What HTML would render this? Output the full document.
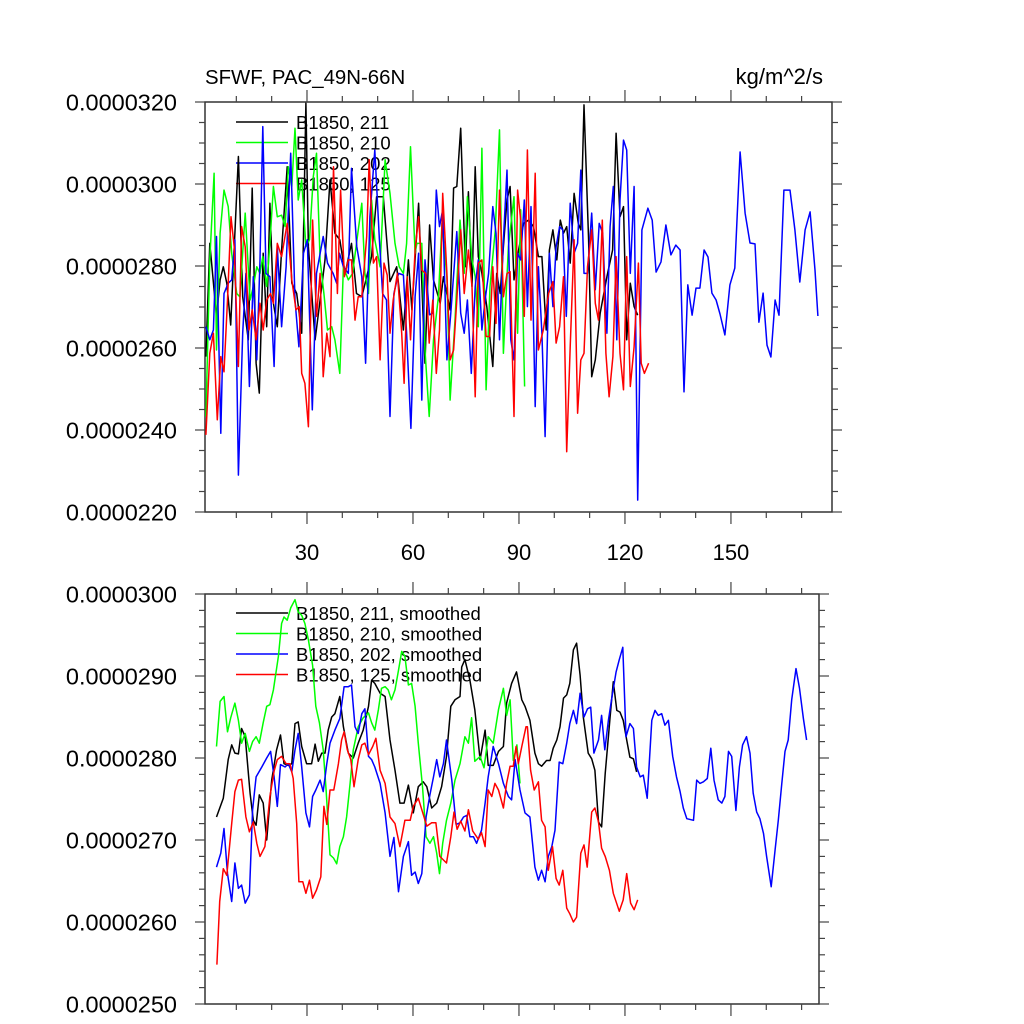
<!DOCTYPE html>
<html><head><meta charset="utf-8"><style>
html,body{margin:0;padding:0;background:#fff;}
svg{display:block;font-family:"Liberation Sans",sans-serif;}
</style></head><body>
<svg id="chart" width="1024" height="1024" viewBox="0 0 1024 1024" xmlns="http://www.w3.org/2000/svg">
<rect width="1024" height="1024" fill="#fff"/>
<text x="205" y="84" font-size="20.4">SFWF, PAC_49N-66N</text>
<text x="823" y="84" font-size="22" text-anchor="end">kg/m^2/s</text>
<g id="top"></g>
<g id="bot"></g>
</svg>
<script>
// ---- data (values in units of 1e-7 kg/m^2/s) ----
const xTicks = [30, 60, 90, 120, 150];
const topYTicks = [220, 240, 260, 280, 300, 320];
const botYTicks = [250, 260, 270, 280, 290, 300];

const yr211 = [1.4,2.5,4.4,5.4,6.3,7.3,8.4,10.6,11.8,13.4,14.5,15.6,16.5,17.6,18.6,19.5,20.5,21.6,22.8,24.4,25.7,27.1,28.5,29.7,30.4,32.3,33.7,35.1,36.5,37.9,39.3,40.8,42.6,44,45.5,46.9,48.3,49.7,51.6,53.5,55.4,57.3,58.7,59.7,61.6,63.4,64.7,65.8,67.7,68.6,70.5,71.5,72.4,73.5,74.8,75.7,76.7,77.6,78.5,79.5,80.9,82.6,83.7,84.7,85.6,86.6,87.5,88.6,89.9,91.3,92.7,94.1,95.5,96.5,97.7,98.6,99.6,100.7,101.7,102.6,103.5,104.5,105.6,106.8,107.5,108.4,109.7,110.6,111.6,113,114.9,116.5,117.5,118.6,119.6,120.5,121.5,122.6,123.6];
const val211 = [257.9,285.5,267.7,276.6,279.8,275.8,265.6,306.7,272.5,262,299,256.3,249,283.1,265.2,295.3,270.9,265.2,283.9,304.2,275.8,273.3,263.6,319.7,284.7,262,271.7,281.5,301,288,286.4,278.2,285.5,273.3,272.5,277.4,282.3,296.9,296.9,276.2,279.8,264.4,281.5,269.3,295.3,256.3,290,276.6,270.9,277.4,269.3,299,299.4,313.6,279.8,298.1,275,304.2,282.3,278.2,270.1,255.5,278.2,273.3,284.7,296.1,299.4,276.6,283.9,290.4,291.2,289.6,282.3,282.3,264.4,283.9,288.8,281.5,291.2,288,289.6,280.7,297.7,290.4,288.8,319.3,286.4,253,257.1,268.5,277.4,283.9,312.4,292,294.5,262,275.8,270.1,268];

const yr210 = [1.4,2.5,3.7,4.4,5.4,6.5,7.7,8.7,10.1,11,12.5,13.9,14.8,15.8,16.7,17.5,18.6,19.5,20.5,21.6,22.8,23.8,24.7,25.7,26.6,27.5,28.5,29.7,30.7,31.8,32.7,33.7,34.8,35.8,37,37.9,39.3,40.3,41.7,42.9,44,45.5,46.4,47.4,48.3,49.2,50.7,52.1,53.5,54.9,56.1,57.3,58.2,59.3,60.6,61.1,62.5,63.4,64.6,65.8,67.2,68.2,69.6,70.5,71.9,73.3,74.5,75.4,76.7,77.6,78.5,79.5,80.7,81.8,83.3,84.5,85.6,87,88.6,89.6,90.5,91.6];
const val210 = [243.3,281.5,302.6,259.5,288,298.5,294.5,283.1,273.3,272.5,292.9,271.7,275,279.8,278.2,282.3,275,285.5,299.4,292,292.4,289.6,304.2,299.4,313.6,296.1,301,284.7,286.4,301.8,307.5,281.5,273.3,264.4,265.2,262,253.8,279.8,276.6,278.2,285.5,295.3,278.2,273.3,296.1,286.4,279.8,305.9,297.7,285.5,279.8,278.2,285.5,309.1,283.1,285.5,285.5,259.5,243.3,262,272.5,290.4,277.4,247.3,266.8,291.2,278.2,296.9,281.5,277.4,265.2,308.7,249.8,275,288.8,313.2,258.7,284.7,296.9,263.6,293.7,250.6];

const yr202 = [1.4,2.5,3.5,4.4,5.6,6.5,7.7,8.7,9.6,10.6,11.8,12.7,13.7,14.8,15.8,16.7,17.5,18.4,19.5,20.7,21.6,22.8,24.1,25.4,26.6,27.7,29,30.1,31.5,32.7,34.6,35.8,37.4,38.4,39.2,40.3,41.7,42.6,44.1,45.5,46.6,47.8,49.2,50.5,51.4,52.5,53.5,54.6,55.9,57.3,58.2,59.4,60.6,61.6,62.5,63.4,64.7,65.6,66.6,67.5,68.4,69.6,70.7,72.4,73.5,74.5,75.4,76.5,77.6,78.5,79.5,80.4,81.4,82.6,83.5,84.5,85.6,86.6,87.7,88.6,89.6,90.5,91.5,92.4,93.4,94.6,95.5,96.5,97.4,98.6,99.6,100.5,101.5,102.4,103.4,104.5,105.6,106.6,107.5,108.4,109.4,110.6,111.6,112.7,113.7,114.9,115.8,116.7,117.7,118.6,119.6,120.5,121.5,122.6,123.6,124.8,126.5,127.7,128.8,130.2,131.6,133,134.4,135.6,136.7,137.8,139,140.1,141.2,142.4,143.5,144.6,145.8,146.9,148.3,149.7,151.1,152.6,154,155.4,156.8,157.9,159.1,160.2,161.3,162.5,163.6,165,166.7,168.1,169.5,171,172.4,173.8,174.6];
const val202 = [265.2,262,264.4,287.2,239.2,273.3,275.8,276.6,286.4,229,263.6,278.2,250.6,277.4,257.1,281.5,314,278.2,277.4,255.5,284.7,265.2,279.8,307.5,271.7,260.3,283.1,286.4,244.9,278.2,287.2,280.7,278.2,275.8,283.1,279.8,278.2,303.8,284.7,277.4,256.3,292,308.3,286.4,273.3,271.7,243.3,273.3,278.2,277.8,263.6,240.4,272.5,283.1,247.3,281.5,268.1,268.5,298.5,289.6,293.7,257.1,268.5,288.4,268.5,263.6,271.7,253.8,275,281.5,264.4,271.7,278.2,294.5,288,262,286.4,303.4,262,257.1,283.1,281.5,296.1,270.1,294.5,245.7,279.8,263.6,238.4,283.1,270.1,284.7,289.6,288.8,267.7,295.3,283.1,285.5,303.4,278.2,278.2,292.9,274.2,290.4,288,263.6,289.6,299.4,262,296.1,310.7,308.3,278.2,299.4,222.9,288.8,294.1,291.2,278.5,281,290,282.7,285.1,283.9,249.3,275.4,268,274.6,274.6,283.9,282.2,273.4,271.7,268.3,263.2,275.4,279.5,307.8,292.9,285.6,285.4,266.3,273.4,260.7,257.8,271.7,268,298.5,298.5,288.8,276.1,288.8,293.2,279,267.8];

const yr125 = [1.4,2.5,3.5,4.6,5.6,6.5,7.5,8.5,9.4,10.6,11.5,12.5,13.6,14.5,15.6,16.7,17.6,18.6,19.7,20.5,21.6,22.8,24.4,25.7,26.9,27.8,28.5,29.4,30.4,31.6,32.7,33.7,34.6,35.6,36.5,37.5,38.6,39.5,40.6,41.7,42.6,43.6,44.5,45.5,46.9,47.6,48.8,49.7,50.7,51.8,52.7,53.5,54.4,55.6,56.8,57.5,58.4,59.3,60.6,61.6,62.5,63.6,64.6,65.6,66.6,67.5,68.4,69.6,70.5,71.5,72.4,73.5,74.5,75.7,76.7,77.6,78.5,79.5,80.7,81.7,82.6,83.5,84.5,85.6,86.6,87.5,88.6,89.6,90.5,91.5,92.4,93.4,94.6,95.5,96.9,98.4,99.6,100.5,101.5,102.6,103.5,104.5,105.6,106.6,107.5,108.4,109.4,110.6,111.6,112.5,113.6,114.6,115.5,116.6,117.5,118.6,119.6,120.5,121.5,122.6,123.8,124.6,125.5,126.7];
const val125 = [238.8,258.7,263.6,242.5,257.9,254.2,271.7,292,284.7,255.5,289.6,284.7,264.4,269.3,262,270.9,264.4,271.7,273.3,270.9,285.5,282.3,290.4,276.6,269.3,270.1,253.8,251.4,240.8,291.2,267.7,278.2,253,263.6,257.9,304.2,273.3,298.5,277.4,281.5,281.5,266.8,272.5,272.5,287.2,305.9,280.7,282.3,257.1,280.7,277.8,263.6,271.7,278.2,263.6,251.4,277.4,262,283.9,292,279,278.2,261.2,271.7,253.8,264.4,297.7,278.2,257.1,259.5,271.7,288.8,273.3,283.9,275,248.1,280.7,281.5,262.8,262.8,279.8,266,298.5,272.5,278.2,278.6,243.3,298.5,291.2,267.7,308.3,266.8,302.6,259.5,264.4,273.3,276.2,261.2,265.2,277.4,234.7,260.3,286.4,244.1,257.1,258.7,279.8,288.8,270.9,266.8,291.2,258.7,248.1,257.9,282.3,258.7,249.8,282.3,250.6,260.3,280.7,256.3,253.8,256.3];

const yrS211 = [4.4,6.3,7.7,8.7,9.6,10.6,11.5,12.5,13.9,14.8,15.6,16.5,17.6,18.6,20,21.4,22.5,23.5,24.7,25.7,26.6,27.5,28.5,29.9,31.3,32.3,33.2,34.2,35.1,36,37,37.9,39.3,40.3,41.7,43.1,44.5,45.9,47.4,48.3,49.2,50.7,52.1,53.5,54.9,56.3,57.5,58.7,60.1,61.5,62.9,63.9,65.3,66.7,68.1,69.5,70.7,71.9,73.3,73.8,74.7,76.1,77.5,79,80.4,81.3,82.7,84.2,85.6,86.5,87.9,89.3,90.8,91.7,93.1,94.5,95.5,96.4,97.8,98.8,99.7,100.7,101.6,102.6,103.5,104.4,105.4,106.3,107.3,108.2,109.6,110.6,111.5,112.5,113.4,114.4,115.8,116.7,117.7,118.6,119.5,120.5,121.4,122.4,123.3];
const valS211 = [272.8,275.1,279.8,281.6,280.6,280.5,283.6,282.6,275.7,272.4,271.8,275.5,274.5,270,277.3,281,282.8,279.3,279.1,279.3,284.2,284.4,281.4,279.3,279.3,281.7,279.6,280.6,280.6,283.4,285,285.4,287.5,283.8,280.6,280,281.8,283.4,286.3,289.5,289.1,287.9,287.5,282.2,278.5,274.5,274.5,276.7,273.3,276.5,277.1,276.5,273.9,274.5,276.5,280.2,286.3,287.1,287.5,291.1,292,289.5,285.9,279.8,283.4,279.1,279.1,280.8,281.4,286.7,289.1,290.5,287.1,286.3,284.6,280.6,279.3,279,279.7,279.7,281.2,282.2,283.8,287.3,287.7,289.1,293.2,294,290.1,285,280.6,279.9,278.5,272.2,271.6,278.1,285,289.3,285.8,285.6,284.6,282.2,280.1,279.9,278.3];

const yrS210 = [4.4,5.4,6.5,7.5,8.4,9.6,10.6,11.5,12.5,13.7,14.6,15.6,16.5,17.6,18.6,19.5,20.5,21.9,22.8,23.5,24.4,25.4,26.6,27.5,28.5,29.4,30.4,31.6,32.5,33.5,34.6,35.4,36.5,37.5,38.4,39.3,40.3,41.2,42.2,43.1,44.5,45.9,47.4,48.3,49.2,50.2,51.1,52.1,53,53.9,54.9,55.9,56.8,57.7,58.7,59.6,60.6,61.5,62.7,63.7,64.8,65.8,66.7,67.5,68.4,69.5,70.7,71.9,73.3,74.7,75.7,76.6,77.5,79,80.1,81.3,82.7,84.2,85.6,86.5,87.5,88.4,89.4,90.3];
const valS210 = [281.4,286.9,287.5,283.2,284.9,286.7,284.6,281.8,283,280.8,282,282.6,281.8,284.3,286.3,286.5,288.3,292.4,296.4,297.2,296.8,298.3,299.3,297.8,297.4,296.4,294.4,291.3,286.3,284.3,281,276.1,268.2,267.8,267.1,269.2,270.4,272.8,276.9,281,283.8,284.9,285.5,284.3,283.4,285.9,288.5,288.7,288.3,287.1,288.3,290.7,293,292.4,288.9,289.1,286.3,281.8,276.5,270.4,269.6,270.4,268.4,265.9,269.6,272.4,274.5,277.3,279.3,282.6,281.8,284.9,279.6,280.2,278.8,282.6,281.8,285.9,288.5,285.2,287.1,279.7,281.6,276.9];

const yrS202 = [4.4,5.6,6.5,7.5,8.7,9.6,10.6,11.5,12.5,13.7,14.6,15.6,17.2,18.6,19.7,20.7,21.6,22.5,23.8,24.7,25.7,26.6,27.5,28.5,29.7,30.7,31.6,32.5,33.7,34.6,35.6,36.5,37.9,39.3,40.5,41.7,42.6,43.6,44.5,45.5,46.4,47.4,48.3,49.2,50.7,52.1,53.5,54.6,55.9,57.3,58.7,59.6,60.6,61.5,62.5,63.7,64.8,65.8,66.7,67.6,68.6,69.5,71,72.2,73.3,74.3,75.2,76.1,77.1,78,79.4,80.4,81.3,82.7,84.2,85.6,87,87.9,88.9,90.3,91.7,93.1,94.5,95.5,96.4,97.4,98.3,99.3,100.2,101.4,102.4,103.5,104.4,105.4,106.3,107.3,108.4,109.4,110.3,111.2,112.5,113.4,114.3,115.3,116.2,117.5,118.4,119.4,120.3,121.4,122.4,123.3,124.3,125.2,126.3,127.6,128.5,129.4,130.4,131.3,132.3,133.5,134.6,135.6,136.5,137.5,139.4,140.3,141.2,142.2,143.3,144.3,145.2,146.4,147.4,148.3,149.3,150.2,151.4,152.4,153.3,154.4,155.4,156.3,157.3,158.2,159.2,160.1,161.4,162.5,163.4,164.4,165.3,166.2,167.2,168.4,169.4,170.5,171.4];
const valS202 = [266.7,268.4,271.4,265.9,262.5,267.2,264.1,264.5,262.3,263.3,273.7,277.7,278.9,280,280.8,277.7,274.1,279.2,278.9,279.3,278.3,281,283,278.9,273.3,271.6,275.3,276.1,277.3,275.9,279.3,281.8,283.4,284.8,288.7,288.7,288.9,283.8,283,285.4,286,280.2,279.8,278.9,276.9,273.3,268,270.3,263.7,268,269.8,265.7,266.1,264.7,265.9,272.8,275.5,277.7,279.8,277.7,279.3,282.2,277.3,271.9,272.1,272.8,273,270.4,270.4,269.6,271.2,274.5,277.7,281.4,279.3,276.9,275.3,274.9,279.8,276.1,273.3,272.8,266.7,265.1,266.3,264.9,268,269.2,271.2,279.5,279.3,281.8,284.2,285.8,284.2,287.9,285,286,286.2,280.6,282.2,285.2,281,284.6,287.1,290.5,292,293.5,282.6,284.2,283.6,278.9,277.7,277.9,275.1,284.6,285.8,285.2,285.4,284,284.6,280.2,277.7,275.9,273.9,272.6,272.4,277.3,276.9,277.1,277.5,281.2,277.3,274.9,274.5,275.3,280.8,280.2,273.6,278.9,281.6,282.6,280.6,275.7,273.4,272.6,270.8,268,264.3,268.8,272.4,276.9,280.8,282.2,287.1,290.9,288.5,284.8,282.2];

const yrS125 = [4.5,5.3,6.3,7.3,8.7,9.6,10.6,11.5,12.7,13.7,14.8,15.8,16.7,18.1,19.5,20.7,21.6,22.8,24.1,25.2,26.1,27.1,27.7,28.8,29.7,30.7,31.6,32.7,33.9,34.8,35.6,36.5,37.6,38.9,39.8,40.5,41.4,42.4,43.3,44.5,45.5,46.4,47.4,48.6,49.5,50.7,52.1,53.5,54.9,56.3,57.7,59.2,60.1,61.5,62.5,63.9,65.3,66.5,67.6,69.5,70.7,71.6,72.5,73.5,74.7,75.7,76.9,78.5,79.4,80.4,81.3,82.3,83.2,84.2,85.6,86.5,87.5,88.4,89.2,89.8,90.8,92,92.4,93.3,94.3,95.5,96.4,97.4,98.3,99.5,100.5,101.4,102.4,103.5,104.4,105.4,106.3,107.5,108.4,109.3,110.6,111.5,112.5,113.4,114.4,115.6,116.7,118.4,119.5,120.5,121.6,122.6,123.6];
const valS125 = [254.8,262.5,266.5,265.7,272,275.9,277.3,277.4,272.8,271,272.2,269.6,268,269.2,275.3,278.4,279.8,280.2,279.3,279.3,277.5,272,264.9,264.9,263.5,265.1,262.9,263.9,265.5,274.1,271.9,276.1,276.1,279.3,282.2,283.2,281,279.8,276.5,279.8,281.6,281.8,280.4,281.4,282.4,278.5,276.9,272.8,272,269.2,272.4,272.4,274.1,275.1,273.7,271.7,272.1,272.1,268,267.2,270.4,273.4,271.3,272.3,271.1,273.7,271.1,270.1,270.9,269.2,276.1,275.3,276.9,276.1,273.9,276.9,279,279,281.4,279.3,281.4,283.8,283.8,278.5,276.1,277.1,272.4,271.6,266.3,269.2,265.3,264.5,266.3,261.7,261,260,260.6,268.4,269.4,266.7,273.4,273.9,272.2,269,268,266.3,263.5,261.3,262.7,265.9,262.3,261.5,262.7];

// ---- layout ----
const NS = 'http://www.w3.org/2000/svg';
const X0 = 201, XS = 3.533;
function xPix(year){ return X0 + XS*year; }
const topP = {left:205, right:832, top:102, bottom:512, vmin:220, vmax:320, major:20, minor:5};
const botP = {left:205, right:819, top:594, bottom:1004, vmin:250, vmax:300, major:10, minor:2};
function yPix(p, v){ return p.bottom - (v - p.vmin)/(p.vmax - p.vmin)*(p.bottom - p.top); }

function mk(tag, attrs, parent){
  const e = document.createElementNS(NS, tag);
  for (const k in attrs) e.setAttribute(k, attrs[k]);
  parent.appendChild(e);
  return e;
}

function drawAxes(p, g, showXLabels){
  const box = mk('rect', {x:p.left, y:p.top, width:p.right-p.left, height:p.bottom-p.top, fill:'none', stroke:'#333', 'stroke-width':1.5}, g);
  
  
  for (let v = p.vmin; v <= p.vmax + 1e-9; v += p.minor){
    const isMaj = Math.abs(((v - p.vmin) / p.major) - Math.round((v - p.vmin) / p.major)) < 1e-6;
    const L = isMaj ? 10 : 6;
    const y = yPix(p, v);
    const t1 = mk('line', {x1:p.left, x2:p.left-L, y1:y, y2:y, stroke:'#444', 'stroke-width':1.2}, g);
    
    
    const t2 = mk('line', {x1:p.right, x2:p.right+L, y1:y, y2:y, stroke:'#444', 'stroke-width':1.2}, g);
    
    
  }
  const yt = (p === topP) ? topYTicks : botYTicks;
  yt.forEach(v => {
    const t = mk('text', {x:177, y:yPix(p, v)+8.5, 'font-size':23.5, 'text-anchor':'end', fill:'#000'}, g);
    t.textContent = (v*1e-7).toFixed(7);
    
    
  });
  for (let yr = 10; xPix(yr) <= p.right; yr += 10){
    const isMaj = xTicks.indexOf(yr) >= 0;
    const L = isMaj ? 12 : 6;
    const x = xPix(yr);
    const a = mk('line', {x1:x, x2:x, y1:p.bottom, y2:p.bottom+L, stroke:'#444', 'stroke-width':1.2}, g);
    
    
    const b = mk('line', {x1:x, x2:x, y1:p.top, y2:p.top-L, stroke:'#444', 'stroke-width':1.2}, g);
    
    
  }
  if (showXLabels){
    xTicks.forEach(yr => {
      const t = mk('text', {x:xPix(yr), y:p.bottom+48, 'font-size':22, 'text-anchor':'middle', fill:'#000'}, g);
      t.textContent = String(yr);
      
      
    });
  }
}

function drawLegend(g, y0, labels, colors){
  labels.forEach((lab, i) => {
    const y = y0 + i*20.5;
    const l = mk('line', {x1:236, x2:288, y1:y, y2:y, stroke:colors[i], 'stroke-width':1.5}, g);
    
    
    const t = mk('text', {x:296, y:y+7, 'font-size':18.5, fill:'#000'}, g);
    t.textContent = lab;
    
    
  });
}

function drawSeries(p, g, xs, vs, color, name){
  const n = Math.min(xs.length, vs.length);
  const pts = [];
  for (let i = 0; i < n; i++) pts.push(xPix(xs[i]).toFixed(1) + ',' + yPix(p, vs[i]).toFixed(1));
  const pl = mk('polyline', {points:pts.join(' '), fill:'none', stroke:color, 'stroke-width':1.5, 'stroke-linejoin':'round'}, g);
  
  
}

const gt = document.getElementById('top');
const gb = document.getElementById('bot');
const colors = ['#000000', '#00ff00', '#0000ff', '#ff0000'];
drawAxes(topP, gt, true);
drawLegend(gt, 122, ['B1850, 211','B1850, 210','B1850, 202','B1850, 125'], colors);
drawSeries(topP, gt, yr211, val211, colors[0], 'series-211');
drawSeries(topP, gt, yr210, val210, colors[1], 'series-210');
drawSeries(topP, gt, yr202, val202, colors[2], 'series-202');
drawSeries(topP, gt, yr125, val125, colors[3], 'series-125');

drawAxes(botP, gb, false);
drawLegend(gb, 613, ['B1850, 211, smoothed','B1850, 210, smoothed','B1850, 202, smoothed','B1850, 125, smoothed'], colors);
drawSeries(botP, gb, yrS211, valS211, colors[0], 'series-211-smoothed');
drawSeries(botP, gb, yrS210, valS210, colors[1], 'series-210-smoothed');
drawSeries(botP, gb, yrS202, valS202, colors[2], 'series-202-smoothed');
drawSeries(botP, gb, yrS125, valS125, colors[3], 'series-125-smoothed');
</script>
</body></html>
